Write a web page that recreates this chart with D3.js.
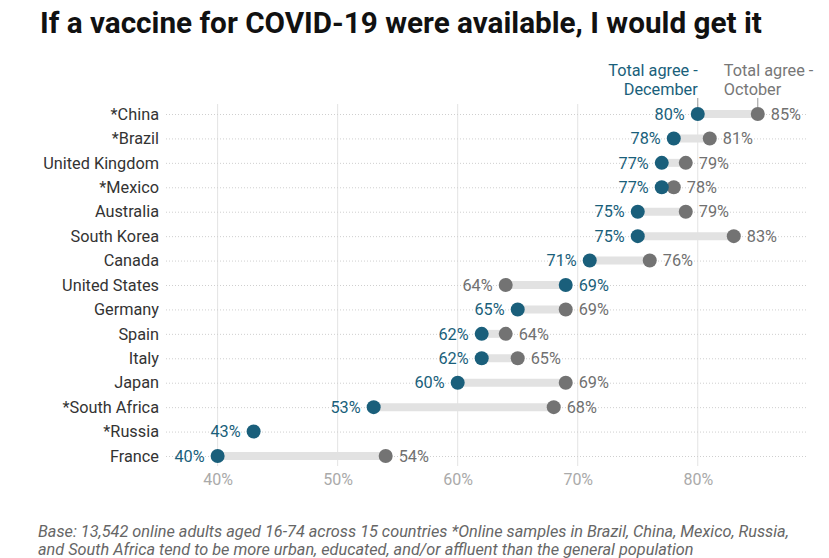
<!DOCTYPE html>
<html><head><meta charset="utf-8">
<script src="https://cdn.jsdelivr.net/npm/d3@7"></script>
<style>
body{margin:0;background:#fff;}
svg{display:block;font-family:Roboto, "Noto Sans", sans-serif;}
</style></head>
<body>
<svg id="chart" width="829" height="558"></svg>
<script>
const countries = ["*China","*Brazil","United Kingdom","*Mexico","Australia","South Korea","Canada","United States","Germany","Spain","Italy","Japan","*South Africa","*Russia","France"];
const december = [80,78,77,77,75,75,71,69,65,62,62,60,53,43,40];
const october = [85,81,79,78,79,83,76,64,69,64,65,69,68,null,54];
const xTicks = [40,50,60,70,80];
const seriesNames = ["Total agree - December","Total agree - October"];

const teal = "#1a5f7b", grey = "#737373";
const svg = d3.select("#chart");
const x = d3.scaleLinear().domain([35.7, 89.1]).range([166, 807]);
const y = d3.scalePoint().domain(countries).range([114, 456]);

// title
svg.append("text").attr("x", 40).attr("y", 33).attr("font-size", 29.7).attr("font-weight", 700)
  .attr("fill", "#111").text("If a vaccine for COVID-19 were available, I would get it");

// vertical grid
svg.append("g").selectAll("line").data(xTicks).join("line")
  .attr("x1", d => x(d)).attr("x2", d => x(d)).attr("y1", 104).attr("y2", 466)
  .attr("stroke", "#e3e3e3").attr("stroke-width", 1);

// horizontal dotted
svg.append("g").selectAll("line").data(countries).join("line")
  .attr("x1", x.range()[0]).attr("x2", x.range()[1]).attr("y1", d => y(d) + 0.5).attr("y2", d => y(d) + 0.5)
  .attr("stroke", "#cfcfcf").attr("stroke-dasharray", "1,2").attr("stroke-width", 1);

// x axis labels
const xAxis = d3.axisBottom(x).tickValues(xTicks).tickFormat(d => d + "%").tickSize(0).tickPadding(0);
const ax = svg.append("g").attr("transform", "translate(0,474)").call(xAxis);
ax.select(".domain").remove();
ax.selectAll("text").attr("font-size", 16).attr("fill", "#aaaaaa").attr("font-family", "Roboto");

// y labels
const yAxis = d3.axisLeft(y).tickSize(0).tickPadding(0);
const ay = svg.append("g").attr("transform", "translate(159,0)").call(yAxis);
ay.select(".domain").remove();
ay.selectAll("text").attr("font-size", 16.3).attr("fill", "#333").attr("font-family", "Roboto");

const rows = countries.map((c, i) => ({c, d: december[i], o: october[i]}));

// connector bars
svg.append("g").selectAll("line").data(rows.filter(r => r.o != null)).join("line")
  .attr("x1", r => x(r.d)).attr("x2", r => x(r.o)).attr("y1", r => y(r.c)).attr("y2", r => y(r.c))
  .attr("stroke", "#e2e2e2").attr("stroke-width", 8);

// legend annotation
const leg = svg.append("g");
leg.append("text").attr("x", x(80)).attr("y", 76).attr("text-anchor", "end").attr("fill", teal).attr("font-size", 16.3)
  .selectAll("tspan").data(["Total agree -", "December"]).join("tspan").attr("x", x(80)).attr("dy", (d, i) => i ? 18.5 : 0).text(d => d);
leg.append("text").attr("x", x(85) - 34).attr("y", 76).attr("text-anchor", "start").attr("fill", "#777").attr("font-size", 16.3)
  .selectAll("tspan").data(["Total agree -", "October"]).join("tspan").attr("x", x(85) - 34).attr("dy", (d, i) => i ? 18.5 : 0).text(d => d);
leg.append("line").attr("x1", x(80)).attr("x2", x(80)).attr("y1", 98).attr("y2", 107).attr("stroke", "#999");
leg.append("line").attr("x1", x(85)).attr("x2", x(85)).attr("y1", 98).attr("y2", 107).attr("stroke", "#999");

// dots
svg.append("g").selectAll("circle").data(rows.filter(r => r.o != null)).join("circle")
  .attr("cx", r => x(r.o)).attr("cy", r => y(r.c)).attr("r", 7).attr("fill", grey);
svg.append("g").selectAll("circle").data(rows).join("circle")
  .attr("cx", r => x(r.d)).attr("cy", r => y(r.c)).attr("r", 7).attr("fill", teal);

// value labels
const lab = svg.append("g").attr("font-size", 16.3);
rows.forEach(r => {
  const dLeft = r.o == null || r.d <= r.o;
  lab.append("text").attr("x", dLeft ? x(r.d) - 13 : x(r.d) + 13).attr("y", y(r.c)).attr("dy", "0.35em")
    .attr("text-anchor", dLeft ? "end" : "start").attr("fill", teal).text(r.d + "%");
  if (r.o != null) {
    lab.append("text").attr("x", dLeft ? x(r.o) + 13 : x(r.o) - 13).attr("y", y(r.c)).attr("dy", "0.35em")
      .attr("text-anchor", dLeft ? "start" : "end").attr("fill", "#707070").text(r.o + "%");
  }
});

// footer
const foot = svg.append("text").attr("x", 38).attr("font-size", 16.3).attr("font-style", "italic").attr("fill", "#666");
foot.append("tspan").attr("x", 38).attr("y", 537).text("Base: 13,542 online adults aged 16-74 across 15 countries *Online samples in Brazil, China, Mexico, Russia,");
foot.append("tspan").attr("x", 38).attr("y", 555).text("and South Africa tend to be more urban, educated, and/or affluent than the general population");
</script>
</body></html>
